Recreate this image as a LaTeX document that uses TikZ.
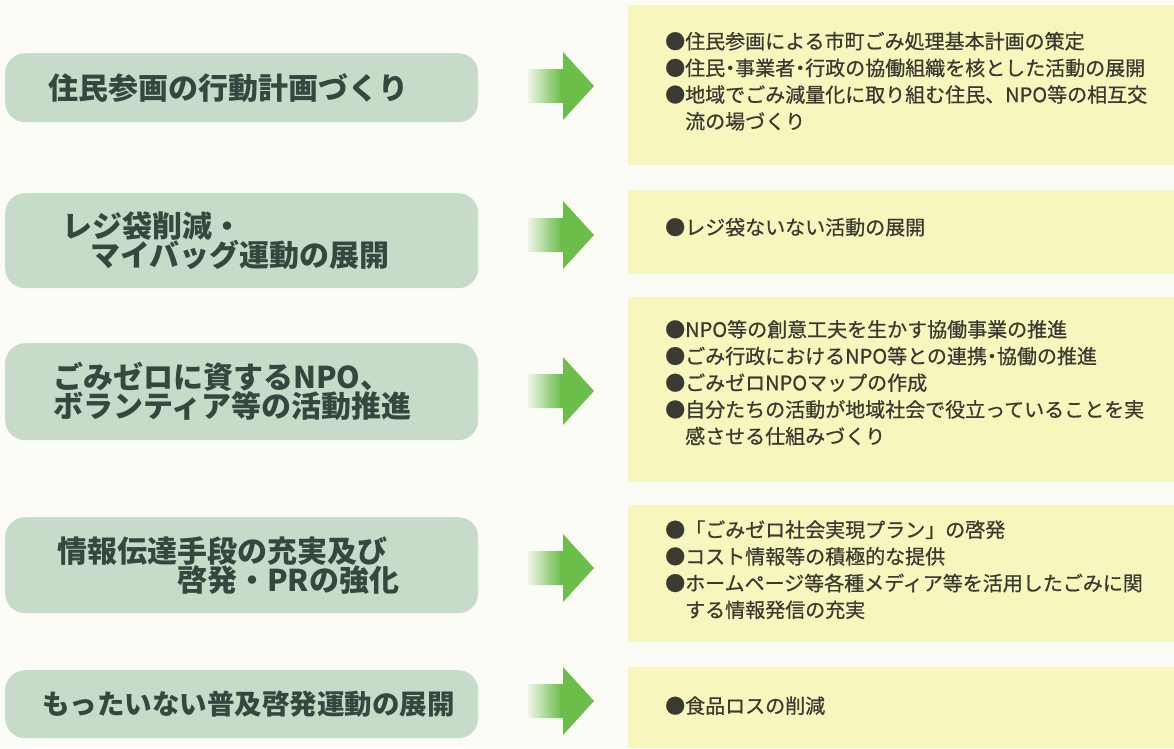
\documentclass[tikz,border=0pt]{standalone}
\usepackage{fontspec}
\newfontfamily\jp{Noto Sans CJK JP}
\newfontfamily\jpm{Noto Sans CJK JP}[FakeBold=0.7]
\usetikzlibrary{calc}
\definecolor{bg}{HTML}{FCFCF7}
\definecolor{leftfill}{HTML}{C6DCC8}
\definecolor{lefttext}{HTML}{33493F}
\definecolor{yellowfill}{HTML}{F7F6BC}
\definecolor{righttext}{HTML}{3A3A32}
\definecolor{arrowgreen}{HTML}{6CBE4B}
\definecolor{arrowpale}{HTML}{EEF6E6}
\pgfdeclarehorizontalshading{arrowshade}{100bp}{color(0bp)=(arrowpale); color(25bp)=(arrowpale); color(50bp)=(arrowgreen); color(100bp)=(arrowgreen)}
\newcommand\leftfont{\jp\bfseries\fontsize{30}{29}\selectfont\lineskiplimit=-100pt}
\newcommand\rightfont{\jpm\fontsize{20}{26.7}\selectfont\lineskiplimit=-100pt}
\newcommand\nk{\makebox[.5em][c]{・}}
\newcommand\garrow[2]{\shade[shading=arrowshade] (528,#2-17) -- (563,#2-17) -- (563,#2-34) -- (594,#2) -- (563,#2+34) -- (563,#2+17) -- (528,#2+17) -- cycle;
  \coordinate (#1) at (561,#2);}
\begin{document}
\begin{tikzpicture}[x=1pt,y=-1pt,
  leftbox/.style={rounded corners=20pt, fill=leftfill, minimum width=473pt, inner sep=0pt, text width=473pt, align=left, font=\leftfont, text=lefttext, anchor=north west},
  rightbox/.style={fill=yellowfill, minimum width=546pt, inner sep=0pt, anchor=north west},
  righttxt/.style={inner sep=0pt, align=left, font=\rightfont, text=righttext, anchor=west}]
\fill[bg] (0,0) rectangle (1174,748);
\useasboundingbox (0,0) rectangle (1174,748);
% left boxes
\node[leftbox, minimum height=69pt] (b1) at (5,53) {\hspace*{43pt}住民参画の行動計画づくり};
\node[leftbox, minimum height=95pt] (b2) at (5,193) {\hspace*{57pt}レジ袋削減・\\\hspace*{85pt}マイバッグ運動の展開};
\node[leftbox, minimum height=97pt] (b3) at (5,343) {\hspace*{48pt}ごみゼロに資するNPO、\\\hspace*{48pt}ボランティア等の活動推進};
\node[leftbox, minimum height=96pt] (b4) at (5,517) {\hspace*{52pt}情報伝達手段の充実及び\\\hspace*{172pt}啓発・PRの強化};
\node[leftbox, minimum height=68pt, font=\jp\bfseries\fontsize{27.5}{29}\selectfont] (b5) at (5,670) {\hspace*{37pt}もったいない普及啓発運動の展開};
% right boxes
\node[rightbox, minimum height=160pt] (y1) at (628,5) {};
\node[rightbox, minimum height=84pt] (y2) at (628,190) {};
\node[rightbox, minimum height=185pt] (y3) at (628,297) {};
\node[rightbox, minimum height=137pt] (y4) at (628,505) {};
\node[rightbox, minimum height=81pt] (y5) at (628,667) {};
\node[righttxt] (t1) at ($(y1.west)+(0,-4)$) {\hspace*{37pt}●住民参画による市町ごみ処理基本計画の策定\\\hspace*{37pt}●住民\nk 事業者\nk 行政の協働組織を核とした活動の展開\\\hspace*{37pt}●地域でごみ減量化に取り組む住民、NPO等の相互交\\\hspace*{57pt}流の場づくり};
\node[righttxt] (t2) at ($(y2.west)+(0,-5)$) {\hspace*{37pt}●レジ袋ないない活動の展開};
\node[righttxt] (t3) at ($(y3.west)+(0,-7)$) {\hspace*{37pt}●NPO等の創意工夫を生かす協働事業の推進\\\hspace*{37pt}●ごみ行政におけるNPO等との連携\nk 協働の推進\\\hspace*{37pt}●ごみゼロNPOマップの作成\\\hspace*{37pt}●自分たちの活動が地域社会で役立っていることを実\\\hspace*{57pt}感させる仕組みづくり};
\node[righttxt] (t4) at ($(y4.west)+(0,-4)$) {\hspace*{37pt}●「ごみゼロ社会実現プラン」の啓発\\\hspace*{37pt}●コスト情報等の積極的な提供\\\hspace*{37pt}●ホームページ等各種メディア等を活用したごみに関\\\hspace*{57pt}する情報発信の充実};
\node[righttxt] (t5) at ($(y5.west)+(0,-2)$) {\hspace*{37pt}●食品ロスの削減};
% arrows
\garrow{a1}{86}
\garrow{a2}{235}
\garrow{a3}{391}
\garrow{a4}{568}
\garrow{a5}{701}
\end{tikzpicture}
\end{document}
